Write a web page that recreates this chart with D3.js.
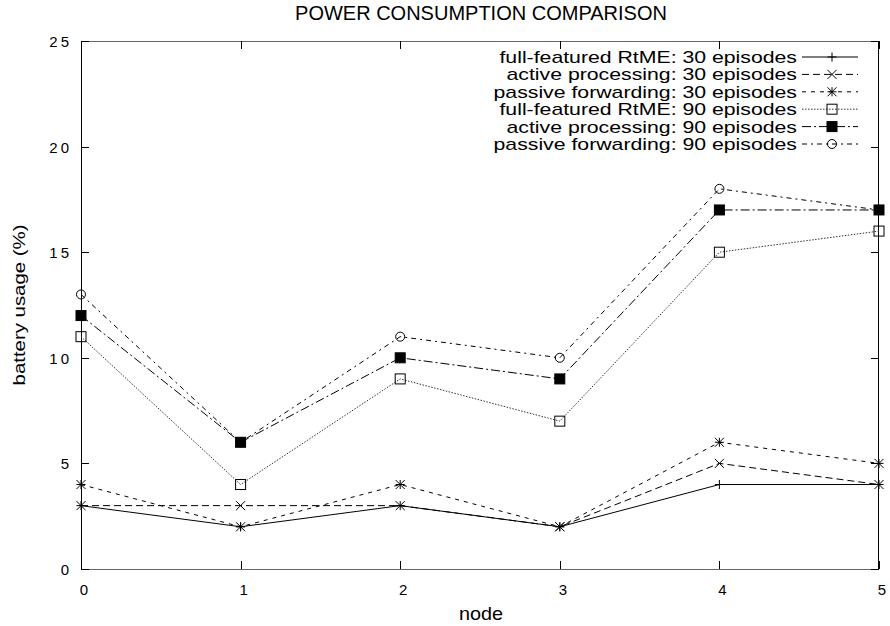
<!DOCTYPE html>
<html>
<head>
<meta charset="utf-8">
<script src="https://cdn.jsdelivr.net/npm/d3@7"></script>
<style>
  body { margin: 0; background: #fff; }
  text { font-family: "Liberation Sans", Arial, sans-serif; fill: #000; }
</style>
</head>
<body>
<div class="chart"></div>
<script>
/** data */
const nodes = [0, 1, 2, 3, 4, 5];
const yTicks = [0, 5, 10, 15, 20, 25];
const seriesNames = [
  "full-featured RtME: 30 episodes",
  "active processing: 30 episodes",
  "passive forwarding: 30 episodes",
  "full-featured RtME: 90 episodes",
  "active processing: 90 episodes",
  "passive forwarding: 90 episodes"
];
const full30    = [3, 2, 3, 2, 4, 4];
const active30  = [3, 3, 3, 2, 5, 4];
const passive30 = [4, 2, 4, 2, 6, 5];
const full90    = [11, 4, 9, 7, 15, 16];
const active90  = [12, 6, 10, 9, 17, 17];
const passive90 = [13, 6, 11, 10, 18, 17];

/** line style + marker per series */
const styles = [
  { dash: null,           marker: 'plus',   stroke: '#000' },
  { dash: '7,4',          marker: 'cross',  stroke: '#000' },
  { dash: '4,5',          marker: 'star',   stroke: '#000' },
  { dash: '1.5,1.5',      marker: 'square', stroke: '#333' },
  { dash: '9,3,2,3',      marker: 'fsquare',stroke: '#000' },
  { dash: '5,4,2,4',      marker: 'circle', stroke: '#000' }
];
const allSeries = [full30, active30, passive30, full90, active90, passive90];

let width = 890, height = 626;
let margin = { left: 81, right: 11, top: 41, bottom: 57 };

let svg = d3.select('.chart').append('svg')
    .attr('width', width)
    .attr('height', height);

let x = d3.scaleLinear().domain([0, 5]).range([margin.left, width - margin.right]);
let y = d3.scaleLinear().domain([0, 25]).range([height - margin.bottom, margin.top]);

/** markers */
function drawMarker(g, type, cx, cy) {
  let s = 4.5;
  if (type === 'plus' || type === 'star') {
    g.append('path').attr('d', `M${cx - s},${cy}H${cx + s}M${cx},${cy - s}V${cy + s}`)
      .attr('stroke', '#000').attr('fill', 'none');
  }
  if (type === 'cross' || type === 'star') {
    g.append('path').attr('d', `M${cx - s},${cy - s}L${cx + s},${cy + s}M${cx - s},${cy + s}L${cx + s},${cy - s}`)
      .attr('stroke', '#000').attr('fill', 'none');
  }
  if (type === 'square' || type === 'fsquare') {
    g.append('rect').attr('x', cx - 5).attr('y', cy - 5).attr('width', 10).attr('height', 10)
      .attr('stroke', '#000').attr('fill', type === 'fsquare' ? '#000' : 'none');
  }
  if (type === 'circle') {
    g.append('circle').attr('cx', cx).attr('cy', cy).attr('r', 4.5)
      .attr('stroke', '#000').attr('fill', 'none');
  }
}

/** frame */
let x0 = x(0), x1 = x(5), yb = y(0), yt = y(25);
svg.append('line').attr('x1', x0).attr('x2', x1).attr('y1', yt + 0.5).attr('y2', yt + 0.5).attr('stroke', '#666');
svg.append('line').attr('x1', x0).attr('x2', x1).attr('y1', yb + 0.5).attr('y2', yb + 0.5).attr('stroke', '#666');
svg.append('line').attr('x1', x0 + 0.5).attr('x2', x0 + 0.5).attr('y1', yt).attr('y2', yb).attr('stroke', '#000');
svg.append('line').attr('x1', x1 - 0.5).attr('x2', x1 - 0.5).attr('y1', yt).attr('y2', yb).attr('stroke', '#000');

/** ticks (inward, mirrored) */
nodes.forEach(function (d) {
  let px = Math.round(x(d)) + 0.5;
  svg.append('line').attr('x1', px).attr('x2', px).attr('y1', yb).attr('y2', yb - 8).attr('stroke', '#000');
  svg.append('line').attr('x1', px).attr('x2', px).attr('y1', yt).attr('y2', yt + 8).attr('stroke', '#000');
  svg.append('text')
    .attr('x', x(d) + 4)
    .attr('y', yb + 26)
    .attr('text-anchor', 'middle')
    .style('font-size', '15px')
    .style('letter-spacing', '2px')
    .text(d);
});
yTicks.forEach(function (d) {
  let py = Math.round(y(d)) + 0.5;
  svg.append('line').attr('x1', x0).attr('x2', x0 + 8).attr('y1', py).attr('y2', py).attr('stroke', '#000');
  svg.append('line').attr('x1', x1).attr('x2', x1 - 8).attr('y1', py).attr('y2', py).attr('stroke', '#000');
  svg.append('text')
    .attr('x', 72)
    .attr('y', y(d) + 6)
    .attr('text-anchor', 'end')
    .style('font-size', '15px')
    .style('letter-spacing', '3px')
    .text(d);
});

/** series lines */
let lineGen = d3.line().x((d, i) => x(nodes[i])).y(d => y(d));
allSeries.forEach(function (vals, k) {
  let st = styles[k];
  svg.append('path')
    .datum(vals)
    .attr('d', lineGen)
    .attr('fill', 'none')
    .attr('stroke', st.stroke)
    .attr('stroke-width', 1)
    .attr('stroke-dasharray', st.dash);
  let g = svg.append('g');
  vals.forEach((v, i) => drawMarker(g, st.marker, x(nodes[i]), y(v)));
});

/** legend */
seriesNames.forEach(function (name, k) {
  let ly = 57 + k * 17.4;
  let st = styles[k];
  svg.append('g')
    .attr('transform', `translate(797,${ly + 6}) scale(1.25,1)`)
    .append('text')
    .attr('text-anchor', 'end')
    .style('font-size', '17px')
    .text(name);
  svg.append('line')
    .attr('x1', 802).attr('x2', 858)
    .attr('y1', ly).attr('y2', ly)
    .attr('stroke', st.stroke)
    .attr('stroke-dasharray', st.dash);
  drawMarker(svg.append('g'), st.marker, 832, ly);
});

/** titles */
svg.append('text')
  .attr('x', 481).attr('y', 20)
  .attr('text-anchor', 'middle')
  .style('font-size', '20px')
  .text('POWER CONSUMPTION COMPARISON');

svg.append('g')
  .attr('transform', 'translate(481,620) scale(1.1,1)')
  .append('text')
  .attr('text-anchor', 'middle')
  .style('font-size', '18px')
  .text('node');

svg.append('g')
  .attr('transform', 'translate(25,305) rotate(-90) scale(1.2,1)')
  .append('text')
  .attr('text-anchor', 'middle')
  .style('font-size', '17px')
  .text('battery usage (%)');
</script>
</body>
</html>
